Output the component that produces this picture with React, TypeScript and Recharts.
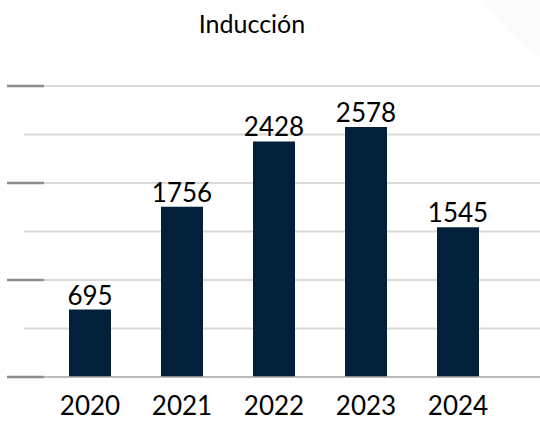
import React from 'react';
import { BarChart, Bar, XAxis, YAxis, CartesianGrid, LabelList } from 'recharts';

const years = ['2020', '2021', '2022', '2023', '2024'];
const inducciones = [695, 1756, 2428, 2578, 1545];
const yTicks = [0, 500, 1000, 1500, 2000, 2500, 3000];

const BAR_COLOR = '#03203a';
const FONT = 'Lato, "Open Sans", sans-serif';

const data = years.map((year, i) => ({ year, value: inducciones[i] }));

// left side marks: long dark dash on the 1000s, short light dash in between
const YTick = (props: any) => {
  const { y, payload } = props;
  const major = payload.value % 1000 === 0;
  return (
    <line
      x1={major ? 7 : 24}
      x2={44}
      y1={y}
      y2={y}
      stroke={major ? '#8c8c8c' : '#d9d9d9'}
      strokeWidth={major ? 2.5 : 2}
    />
  );
};

export default function App() {
  return (
    <div style={{ position: 'absolute', left: 0, top: 0, width: 540, height: 424, background: '#fff', overflow: 'hidden' }}>
      <div
        style={{
          position: 'absolute',
          left: 462,
          top: -238,
          width: 316,
          height: 316,
          borderRadius: '50%',
          background: '#fbfbfb',
        }}
      />
      <svg width={540} height={424} style={{ position: 'absolute', left: 0, top: 0 }}>
        <text x={252} y={33} textAnchor="middle" fontFamily={FONT} fontSize={25} fill="#000">
          Inducción
        </text>
      </svg>
      <div style={{ position: 'absolute', left: 0, top: 0 }}>
        <BarChart width={540} height={424} data={data} margin={{ top: 86, right: 0, bottom: 0, left: 7 }}>
          <CartesianGrid vertical={false} stroke="#d9d9d9" strokeWidth={2} />
          <YAxis
            width={37}
            domain={[0, 3000]}
            ticks={yTicks}
            axisLine={false}
            tickLine={false}
            tick={<YTick />}
            interval={0}
          />
          <XAxis
            dataKey="year"
            height={47}
            padding={{ left: 0, right: 36 }}
            axisLine={{ stroke: '#b0b0b0', strokeWidth: 1.5 }}
            tickLine={false}
            tickSize={0}
            tickMargin={20}
            interval={0}
            tick={{ fill: '#000', fontSize: 26, fontFamily: FONT }}
          />
          <Bar dataKey="value" fill={BAR_COLOR} barSize={42} isAnimationActive={false}>
            <LabelList dataKey="value" position="top" offset={5} fill="#000" fontSize={26} fontFamily={FONT} />
          </Bar>
        </BarChart>
      </div>
    </div>
  );
}
